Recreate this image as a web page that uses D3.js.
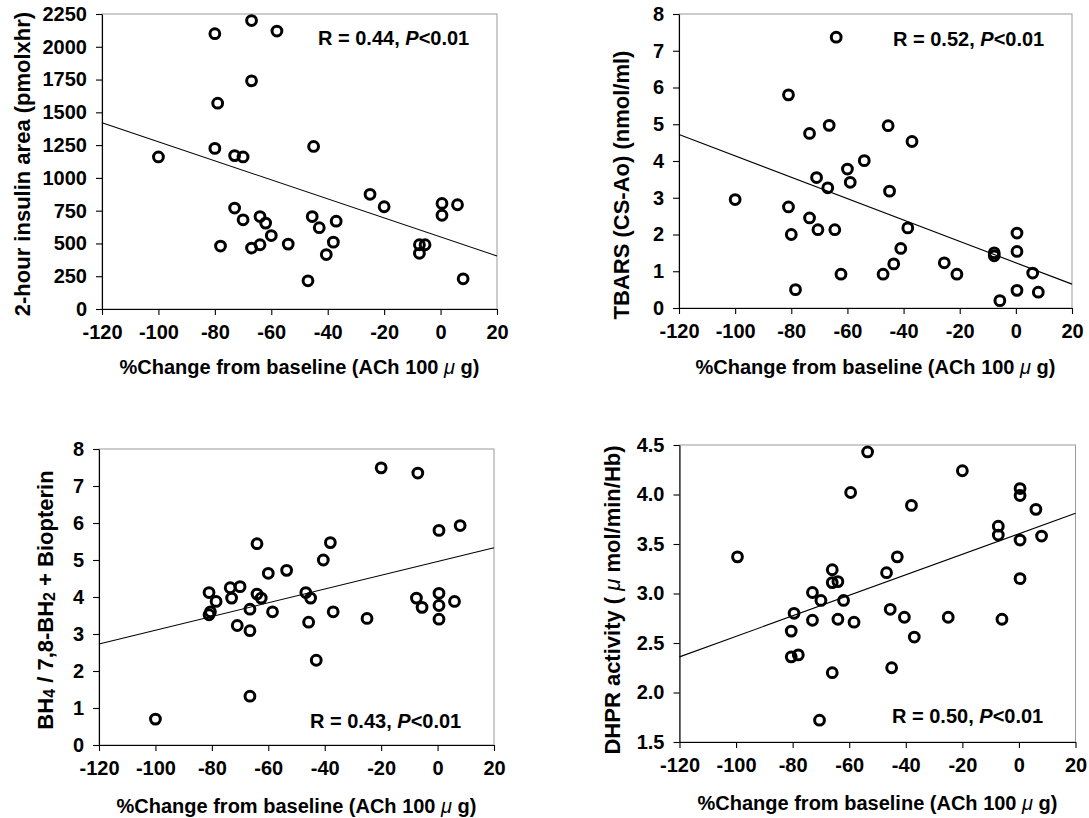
<!DOCTYPE html>
<html>
<head>
<meta charset="utf-8">
<script src="https://cdn.jsdelivr.net/npm/d3@7"></script>
<style>
  body { margin: 0; background: #fff; }
  svg { font-family: "Liberation Sans", Arial, Helvetica, sans-serif; font-weight: bold; }
</style>
</head>
<body>
<div id="chart"></div>
<script>
// x axis is shared by all four panels
const xTicks = [-120, -100, -80, -60, -40, -20, 0, 20];
const fitX = [-120, 20];

// 2-hour insulin area
const insulinX = [-100, -80, -67, -67, -79, -80, -73, -70, -73, -70, -78, -67, -58, -45, -64, -62, -60,
  -64, -54, -47, -45.5, -43, -37, -38, -40.5, -25, -20, -7.5, -5.5, -7.5, 0.5, 0.5, 6, 8];
const insulinY = [1160, 2100, 2200, 1740, 1570, 1225, 1170, 1160, 770, 680, 480, 465, 2120, 1240, 705, 655, 560,
  490, 495, 215, 705, 620, 670, 510, 415, 875, 780, 490, 490, 425, 805, 715, 795, 230];
const insulinTicks = [0, 250, 500, 750, 1000, 1250, 1500, 1750, 2000, 2250];
const insulinFit = [1420, 405];

// TBARS
const tbarsX = [-100, -81, -81, -80, -78.5, -73.5, -66.5, -71, -67, -73.5, -70.5, -64.5, -64, -45.5, -37, -54, -60,
  -59, -45, -38.5, -41, -43.5, -47.3, -62.3, -25.5, -21, -7.7, -7.7, -5.7, 0.4, 0.4, 0.4, 6, 8];
const tbarsY = [2.95, 5.8, 2.75, 2.0, 0.5, 4.75, 4.97, 3.55, 3.27, 2.45, 2.13, 2.13, 7.37, 4.96, 4.53, 4.01, 3.78,
  3.42, 3.18, 2.18, 1.62, 1.2, 0.92, 0.92, 1.23, 0.92, 1.5, 1.42, 0.2, 2.04, 1.54, 0.48, 0.95, 0.43];
const tbarsTicks = [0, 1, 2, 3, 4, 5, 6, 7, 8];
const tbarsFit = [4.72, 0.65];

// BH4 / 7,8-BH2 + Biopterin
const bh4X = [-100, -81, -81, -80.5, -78.5, -73.5, -73, -70, -71, -66.5, -66.5, -66.5, -64, -64, -62.5, -58.5, -60,
  -53.5, -46.7, -45, -45.7, -43, -40.5, -38, -37, -25, -20, -7, -7.5, -5.5, 0.5, 0.5, 0.5, 0.5, 6, 8];
const bh4Y = [0.7, 4.12, 3.52, 3.6, 3.88, 4.25, 3.97, 4.28, 3.23, 3.09, 3.67, 1.32, 5.44, 4.08, 3.97, 3.6, 4.64,
  4.72, 4.12, 3.97, 3.32, 2.29, 5.0, 5.47, 3.6, 3.42, 7.49, 7.35, 3.97, 3.72, 5.8, 4.1, 3.77, 3.4, 3.88, 5.93];
const bh4Ticks = [0, 1, 2, 3, 4, 5, 6, 7, 8];
const bh4Fit = [2.73, 5.33];

// DHPR activity
const dhprX = [-99.5, -79.5, -80.5, -80.5, -78, -73, -73, -70, -70.5, -66, -66, -66, -53.5, -59.5, -38, -20, 0.4,
  0.4, 6, -7.3, -7.3, 0.4, 8, 0.4, -6, -25, -43, -46.8, -45.5, -40.5, -37, -45, -64, -62, -64, -58.3];
const dhprY = [3.37, 2.8, 2.62, 2.36, 2.38, 3.01, 2.73, 2.93, 1.72, 3.24, 3.11, 2.2, 4.43, 4.02, 3.89, 4.24, 4.06,
  3.99, 3.85, 3.68, 3.59, 3.54, 3.58, 3.15, 2.74, 2.76, 3.37, 3.21, 2.84, 2.76, 2.56, 2.25, 3.12, 2.93, 2.74, 2.71];
const dhprTicks = [1.5, 2.0, 2.5, 3.0, 3.5, 4.0, 4.5];
const dhprFit = [2.36, 3.81];

const size = { width: 1089, height: 818 };

const svg = d3.select("#chart")
  .append("svg")
  .attr("width", size.width)
  .attr("height", size.height);

// plain hyphen for negatives, as in the original figure
const hyphen = (fmt) => (d) => fmt(d).replace("\u2212", "-");

// mu sign and subscripts live in tspans
function xTitle(t) {
  t.append("tspan").text("%Change from baseline (ACh 100 ");
  t.append("tspan").attr("font-style", "italic").attr("font-weight", "normal").text("\u03bc");
  t.append("tspan").text(" g)");
}

function stats(r) {
  return (t) => {
    t.append("tspan").text(`R = ${r},  `);
    t.append("tspan").attr("font-style", "italic").text("P");
    t.append("tspan").text("<0.01");
  };
}

function drawPanel(p) {
  const g = svg.append("g");
  const xScale = d3.scaleLinear([-120, 20], [p.left, p.right]);
  const yScale = d3.scaleLinear(p.yDomain, [p.bottom, p.top]);

  // light frame round the plot area
  g.append("rect")
    .attr("x", p.left)
    .attr("y", p.top)
    .attr("width", p.right - p.left)
    .attr("height", p.bottom - p.top)
    .attr("fill", "none")
    .attr("stroke", "#9a9a9a")
    .attr("stroke-width", 1);

  const xAxis = g.append("g")
    .attr("transform", `translate(0,${p.bottom})`)
    .call(d3.axisBottom(xScale).tickValues(xTicks).tickSize(6).tickSizeOuter(0).tickPadding(9)
      .tickFormat(hyphen(d3.format("d"))));

  const yAxis = g.append("g")
    .attr("transform", `translate(${p.left},0)`)
    .call(d3.axisLeft(yScale).tickValues(p.yTicks).tickSize(6).tickSizeOuter(0).tickPadding(9)
      .tickFormat(p.yFormat));

  [xAxis, yAxis].forEach((a) => {
    a.selectAll("text")
      .style("font-size", "20px")
      .style("font-weight", "bold")
      .attr("fill", "#000")
      .style("font-family", "'Liberation Sans', Arial, sans-serif");
    a.selectAll("line, path").attr("stroke", "#000").attr("stroke-width", 1.1);
  });
  xAxis.selectAll("text").attr("dy", "0.75em");

  // regression line
  g.append("line")
    .attr("x1", xScale(fitX[0]))
    .attr("y1", yScale(p.fit[0]))
    .attr("x2", xScale(fitX[1]))
    .attr("y2", yScale(p.fit[1]))
    .attr("stroke", "#000")
    .attr("stroke-width", 1.1);

  g.append("g")
    .selectAll("circle")
    .data(d3.range(p.xs.length))
    .join("circle")
    .attr("cx", (i) => xScale(p.xs[i]))
    .attr("cy", (i) => yScale(p.ys[i]))
    .attr("r", 4.9)
    .attr("fill", "none")
    .attr("stroke", "#000")
    .attr("stroke-width", 3);

  g.append("text")
    .attr("x", p.statX)
    .attr("y", p.statY)
    .style("font-size", "20px")
    .call(p.stat);

  g.append("text")
    .attr("x", (p.left + p.right) / 2)
    .attr("y", p.xTitleY)
    .attr("text-anchor", "middle")
    .style("font-size", "20px")
    .call(xTitle);

  g.append("text")
    .attr("transform", `translate(${p.yTitleX},${p.yTitleY}) rotate(-90)`)
    .attr("text-anchor", "middle")
    .attr("dy", "0.35em")
    .style("font-size", "22px")
    .call(p.yTitle);
}

drawPanel({
  left: 102, right: 497, top: 14, bottom: 309,
  yDomain: [0, 2250], yTicks: insulinTicks, yFormat: d3.format("d"),
  xs: insulinX, ys: insulinY, fit: insulinFit,
  stat: stats("0.44"), statX: 318, statY: 45,
  xTitleY: 374, yTitleX: 22, yTitleY: 164,
  yTitle: (t) => t.text("2-hour insulin area (pmolxhr)")
});

drawPanel({
  left: 679, right: 1072, top: 14, bottom: 308,
  yDomain: [0, 8], yTicks: tbarsTicks, yFormat: d3.format("d"),
  xs: tbarsX, ys: tbarsY, fit: tbarsFit,
  stat: stats("0.52"), statX: 893, statY: 46,
  xTitleY: 374, yTitleX: 621, yTitleY: 185,
  yTitle: (t) => t.text("TBARS (CS-Ao) (nmol/ml)")
});

drawPanel({
  left: 99, right: 494, top: 449, bottom: 745,
  yDomain: [0, 8], yTicks: bh4Ticks, yFormat: d3.format("d"),
  xs: bh4X, ys: bh4Y, fit: bh4Fit,
  stat: stats("0.43"), statX: 310, statY: 728,
  xTitleY: 813, yTitleX: 45, yTitleY: 600,
  yTitle: (t) => {
    t.append("tspan").text("BH");
    t.append("tspan").style("font-size", "16px").attr("dy", "2").text("4");
    t.append("tspan").attr("dy", "-2").text(" / 7,8-BH");
    t.append("tspan").style("font-size", "16px").attr("dy", "2").text("2");
    t.append("tspan").attr("dy", "-2").text(" + Biopterin");
  }
});

drawPanel({
  left: 679.5, right: 1075.5, top: 445, bottom: 742,
  yDomain: [1.5, 4.5], yTicks: dhprTicks, yFormat: d3.format(".1f"),
  xs: dhprX, ys: dhprY, fit: dhprFit,
  stat: stats("0.50"), statX: 892, statY: 723,
  xTitleY: 810, yTitleX: 612, yTitleY: 600,
  yTitle: (t) => {
    t.append("tspan").text("DHPR activity ( ");
    t.append("tspan").attr("font-style", "italic").attr("font-weight", "normal").text("\u03bc");
    t.append("tspan").text(" mol/min/Hb)");
  }
});
</script>
</body>
</html>
